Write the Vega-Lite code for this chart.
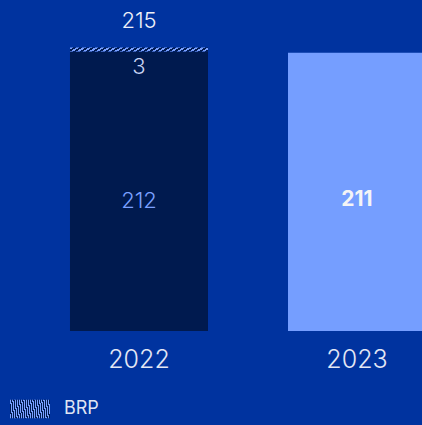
{
  "$schema": "https://vega.github.io/schema/vega-lite/v6.json",
  "autosize": {"type": "none"},
  "padding": {"left": 0, "top": 0, "right": 0, "bottom": 94},
  "width": 422,
  "height": 331,
  "background": "#00339f",
  "config": {"view": {"stroke": null}, "font": "Inter"},
  "data": {"values": [
    {"year": "2022", "series": "Base", "value": 212},
    {"year": "2022", "series": "BRP", "value": 3},
    {"year": "2023", "series": "Base", "value": 211}
  ]},
  "transform": [
    {"stack": "value", "groupby": ["year"], "sort": [{"field": "series", "order": "descending"}], "as": ["v0", "v1"]},
    {"joinaggregate": [{"op": "sum", "field": "value", "as": "total"}], "groupby": ["year"]},
    {"calculate": "(datum.v0 + datum.v1) / 2", "as": "mid"}
  ],
  "encoding": {
    "x": {"field": "year", "type": "nominal", "scale": {"type": "band", "range": [0, 496], "paddingInner": 0.367, "paddingOuter": 0.321},
      "axis": {"title": null, "domain": false, "ticks": false, "labelAngle": 0, "labelFont": "Inter", "labelFontSize": 25, "labelFontWeight": 300, "labelColor": "#e3e7f5", "labelPadding": 16}}
  },
  "layer": [
    {
      "mark": {"type": "bar", "clip": true},
      "encoding": {
        "y": {"field": "v0", "type": "quantitative", "scale": {"domain": [0, 251], "nice": false, "zero": true}, "axis": null},
        "y2": {"field": "v1"},
        "fill": {
          "condition": {"test": "datum.series === 'BRP'", "value": {"gradient": "linear", "x1": 0, "y1": 0, "x2": 1.0415, "y2": 0.0453, "stops": [
            {"offset":0,"color":"#7aa0ff"},{"offset":0.0217,"color":"#7aa0ff"},{"offset":0.0217,"color":"#001a4f"},{"offset":0.0435,"color":"#001a4f"},{"offset":0.0435,"color":"#7aa0ff"},{"offset":0.0652,"color":"#7aa0ff"},{"offset":0.0652,"color":"#001a4f"},{"offset":0.087,"color":"#001a4f"},{"offset":0.087,"color":"#7aa0ff"},{"offset":0.1087,"color":"#7aa0ff"},{"offset":0.1087,"color":"#001a4f"},{"offset":0.1304,"color":"#001a4f"},{"offset":0.1304,"color":"#7aa0ff"},{"offset":0.1522,"color":"#7aa0ff"},{"offset":0.1522,"color":"#001a4f"},{"offset":0.1739,"color":"#001a4f"},{"offset":0.1739,"color":"#7aa0ff"},{"offset":0.1957,"color":"#7aa0ff"},{"offset":0.1957,"color":"#001a4f"},{"offset":0.2174,"color":"#001a4f"},{"offset":0.2174,"color":"#7aa0ff"},{"offset":0.2391,"color":"#7aa0ff"},{"offset":0.2391,"color":"#001a4f"},{"offset":0.2609,"color":"#001a4f"},{"offset":0.2609,"color":"#7aa0ff"},{"offset":0.2826,"color":"#7aa0ff"},{"offset":0.2826,"color":"#001a4f"},{"offset":0.3043,"color":"#001a4f"},{"offset":0.3043,"color":"#7aa0ff"},{"offset":0.3261,"color":"#7aa0ff"},{"offset":0.3261,"color":"#001a4f"},{"offset":0.3478,"color":"#001a4f"},{"offset":0.3478,"color":"#7aa0ff"},{"offset":0.3696,"color":"#7aa0ff"},{"offset":0.3696,"color":"#001a4f"},{"offset":0.3913,"color":"#001a4f"},{"offset":0.3913,"color":"#7aa0ff"},{"offset":0.413,"color":"#7aa0ff"},{"offset":0.413,"color":"#001a4f"},{"offset":0.4348,"color":"#001a4f"},{"offset":0.4348,"color":"#7aa0ff"},{"offset":0.4565,"color":"#7aa0ff"},{"offset":0.4565,"color":"#001a4f"},{"offset":0.4783,"color":"#001a4f"},{"offset":0.4783,"color":"#7aa0ff"},{"offset":0.5,"color":"#7aa0ff"},{"offset":0.5,"color":"#001a4f"},{"offset":0.5217,"color":"#001a4f"},{"offset":0.5217,"color":"#7aa0ff"},{"offset":0.5435,"color":"#7aa0ff"},{"offset":0.5435,"color":"#001a4f"},{"offset":0.5652,"color":"#001a4f"},{"offset":0.5652,"color":"#7aa0ff"},{"offset":0.587,"color":"#7aa0ff"},{"offset":0.587,"color":"#001a4f"},{"offset":0.6087,"color":"#001a4f"},{"offset":0.6087,"color":"#7aa0ff"},{"offset":0.6304,"color":"#7aa0ff"},{"offset":0.6304,"color":"#001a4f"},{"offset":0.6522,"color":"#001a4f"},{"offset":0.6522,"color":"#7aa0ff"},{"offset":0.6739,"color":"#7aa0ff"},{"offset":0.6739,"color":"#001a4f"},{"offset":0.6957,"color":"#001a4f"},{"offset":0.6957,"color":"#7aa0ff"},{"offset":0.7174,"color":"#7aa0ff"},{"offset":0.7174,"color":"#001a4f"},{"offset":0.7391,"color":"#001a4f"},{"offset":0.7391,"color":"#7aa0ff"},{"offset":0.7609,"color":"#7aa0ff"},{"offset":0.7609,"color":"#001a4f"},{"offset":0.7826,"color":"#001a4f"},{"offset":0.7826,"color":"#7aa0ff"},{"offset":0.8043,"color":"#7aa0ff"},{"offset":0.8043,"color":"#001a4f"},{"offset":0.8261,"color":"#001a4f"},{"offset":0.8261,"color":"#7aa0ff"},{"offset":0.8478,"color":"#7aa0ff"},{"offset":0.8478,"color":"#001a4f"},{"offset":0.8696,"color":"#001a4f"},{"offset":0.8696,"color":"#7aa0ff"},{"offset":0.8913,"color":"#7aa0ff"},{"offset":0.8913,"color":"#001a4f"},{"offset":0.913,"color":"#001a4f"},{"offset":0.913,"color":"#7aa0ff"},{"offset":0.9348,"color":"#7aa0ff"},{"offset":0.9348,"color":"#001a4f"},{"offset":0.9565,"color":"#001a4f"},{"offset":0.9565,"color":"#7aa0ff"},{"offset":0.9783,"color":"#7aa0ff"},{"offset":0.9783,"color":"#001a4f"},{"offset":1,"color":"#001a4f"}
          ]}},
          "field": "year", "type": "nominal",
          "scale": {"domain": ["2022", "2023"], "range": ["#001a4f", "#759eff"]},
          "legend": null
        },
        "opacity": {
          "condition": {"test": "datum.series === 'BRP'", "field": "series", "type": "ordinal",
            "scale": {"domain": ["BRP"], "range": [1]},
            "legend": {
              "title": null, "orient": "none", "legendX": 10, "legendY": 389, "padding": 0,
              "symbolType": "M-1,-0.46L1,-0.46L1,0.46L-1,0.46Z", "symbolSize": 1600, "symbolStrokeWidth": 0,
              "labelFont": "Inter", "labelFontSize": 18, "labelFontWeight": 400, "labelColor": "#dfe4f3", "labelOffset": 14,
              "encode": {"symbols": {"update": {"opacity": {"value": 1}, "fill": {"value": {"gradient": "linear", "x1": 0, "y1": 0, "x2": 1.2035, "y2": 0.5717, "stops": [
                {"offset":0,"color":"#6b9bff"},{"offset":0.0417,"color":"#6b9bff"},{"offset":0.0417,"color":"#0a1d5c"},{"offset":0.0833,"color":"#0a1d5c"},{"offset":0.0833,"color":"#6b9bff"},{"offset":0.125,"color":"#6b9bff"},{"offset":0.125,"color":"#0a1d5c"},{"offset":0.1667,"color":"#0a1d5c"},{"offset":0.1667,"color":"#6b9bff"},{"offset":0.2083,"color":"#6b9bff"},{"offset":0.2083,"color":"#0a1d5c"},{"offset":0.25,"color":"#0a1d5c"},{"offset":0.25,"color":"#6b9bff"},{"offset":0.2917,"color":"#6b9bff"},{"offset":0.2917,"color":"#0a1d5c"},{"offset":0.3333,"color":"#0a1d5c"},{"offset":0.3333,"color":"#6b9bff"},{"offset":0.375,"color":"#6b9bff"},{"offset":0.375,"color":"#0a1d5c"},{"offset":0.4167,"color":"#0a1d5c"},{"offset":0.4167,"color":"#6b9bff"},{"offset":0.4583,"color":"#6b9bff"},{"offset":0.4583,"color":"#0a1d5c"},{"offset":0.5,"color":"#0a1d5c"},{"offset":0.5,"color":"#6b9bff"},{"offset":0.5417,"color":"#6b9bff"},{"offset":0.5417,"color":"#0a1d5c"},{"offset":0.5833,"color":"#0a1d5c"},{"offset":0.5833,"color":"#6b9bff"},{"offset":0.625,"color":"#6b9bff"},{"offset":0.625,"color":"#0a1d5c"},{"offset":0.6667,"color":"#0a1d5c"},{"offset":0.6667,"color":"#6b9bff"},{"offset":0.7083,"color":"#6b9bff"},{"offset":0.7083,"color":"#0a1d5c"},{"offset":0.75,"color":"#0a1d5c"},{"offset":0.75,"color":"#6b9bff"},{"offset":0.7917,"color":"#6b9bff"},{"offset":0.7917,"color":"#0a1d5c"},{"offset":0.8333,"color":"#0a1d5c"},{"offset":0.8333,"color":"#6b9bff"},{"offset":0.875,"color":"#6b9bff"},{"offset":0.875,"color":"#0a1d5c"},{"offset":0.9167,"color":"#0a1d5c"},{"offset":0.9167,"color":"#6b9bff"},{"offset":0.9583,"color":"#6b9bff"},{"offset":0.9583,"color":"#0a1d5c"},{"offset":1,"color":"#0a1d5c"}
              ]}}}}}
            }
          },
          "value": 1
        }
      }
    },
    {
      "transform": [{"filter": "datum.series === 'BRP'"}],
      "mark": {"type": "text", "baseline": "alphabetic", "dy": -19.5, "fontSize": 22, "font": "Inter", "fontWeight": 300, "color": "#eef0f8"},
      "encoding": {"y": {"field": "v1", "type": "quantitative"}, "text": {"field": "total", "type": "quantitative"}}
    },
    {
      "transform": [{"filter": "datum.series === 'BRP'"}],
      "mark": {"type": "text", "baseline": "middle", "dy": 16, "fontSize": 22, "font": "Inter", "fontWeight": 300, "color": "#c8d4f4"},
      "encoding": {"y": {"field": "v0", "type": "quantitative"}, "text": {"field": "value", "type": "quantitative"}}
    },
    {
      "transform": [{"filter": "datum.series === 'Base' && datum.year === '2022'"}],
      "mark": {"type": "text", "baseline": "middle", "dy": 10, "fontSize": 22, "font": "Inter", "fontWeight": 300, "color": "#7aa0ff"},
      "encoding": {"y": {"field": "mid", "type": "quantitative"}, "text": {"field": "value", "type": "quantitative"}}
    },
    {
      "transform": [{"filter": "datum.series === 'Base' && datum.year === '2023'"}],
      "mark": {"type": "text", "baseline": "middle", "dy": 8, "fontSize": 21, "font": "Inter", "fontWeight": "bold", "color": "#f4f4f6"},
      "encoding": {"y": {"field": "mid", "type": "quantitative"}, "text": {"field": "value", "type": "quantitative"}}
    }
  ]
}
